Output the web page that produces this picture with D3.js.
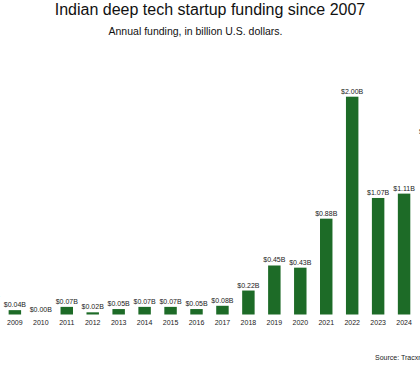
<!DOCTYPE html>
<html>
<head>
<meta charset="utf-8">
<script src="https://cdn.jsdelivr.net/npm/d3@7"></script>
<style>
  html, body { margin: 0; padding: 0; background: #fff; overflow: hidden; }
  svg { display: block; font-family: "Liberation Sans", Arial, sans-serif; }
</style>
</head>
<body>
<svg id="chart" width="420" height="365"></svg>
<script>
const years = ["2007","2008","2009","2010","2011","2012","2013","2014","2015","2016","2017","2018","2019","2020","2021","2022","2023","2024","2025"];
const funding = [0.02, 0.12, 0.04, 0.00, 0.07, 0.02, 0.05, 0.07, 0.07, 0.05, 0.08, 0.22, 0.45, 0.43, 0.88, 2.00, 1.07, 1.11, 1.63];
const titleText = "Indian deep tech startup funding since 2007";
const subtitleText = "Annual funding, in billion U.S. dollars.";
const sourceText = "Source: Tracxn";

const data = years.map((y, i) => ({ year: y, value: funding[i] }));

const svg = d3.select("#chart");
const baseline = 314.5;

const x = d3.scaleBand()
  .domain(years)
  .range([-50, 443])
  .paddingInner(0.52)
  .paddingOuter(0.26);

const y = d3.scaleLinear()
  .domain([0, 2])
  .range([baseline, 96.7]);

svg.append("text")
  .attr("x", 210).attr("y", 15)
  .attr("text-anchor", "middle")
  .attr("font-size", 16)
  .attr("fill", "#111")
  .text(titleText);

svg.append("text")
  .attr("x", 195.5).attr("y", 35)
  .attr("text-anchor", "middle")
  .attr("font-size", 10.5)
  .attr("fill", "#111")
  .text(subtitleText);

svg.append("g")
  .selectAll("rect")
  .data(data)
  .join("rect")
  .attr("x", d => x(d.year))
  .attr("width", x.bandwidth())
  .attr("y", d => y(d.value))
  .attr("height", d => baseline - y(d.value))
  .attr("fill", "#1d6b27");

svg.append("g")
  .selectAll("text")
  .data(data)
  .join("text")
  .attr("x", d => x(d.year) + x.bandwidth() / 2)
  .attr("y", d => y(d.value) - 3)
  .attr("text-anchor", "middle")
  .attr("font-size", 7)
  .attr("fill", "#222")
  .text(d => "$" + d.value.toFixed(2) + "B");

const axis = svg.append("g")
  .attr("transform", `translate(0,${baseline})`)
  .call(d3.axisBottom(x).tickSize(0).tickPadding(6));
axis.select(".domain").remove();
axis.selectAll("text")
  .attr("font-size", 7)
  .attr("font-family", "Liberation Sans, Arial, sans-serif")
  .attr("fill", "#222");

svg.append("text")
  .attr("x", 375).attr("y", 360)
  .attr("font-size", 7)
  .attr("fill", "#222")
  .text(sourceText);
</script>
</body>
</html>
